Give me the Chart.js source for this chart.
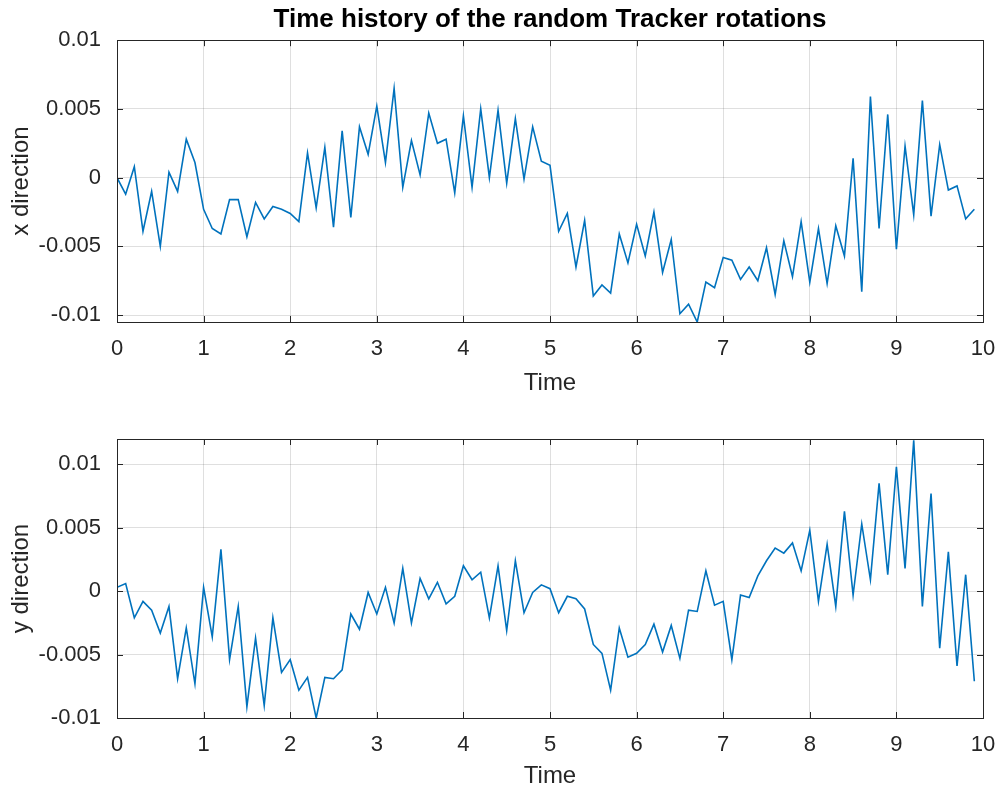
<!DOCTYPE html>
<html>
<head>
<meta charset="utf-8">
<script src="https://cdn.jsdelivr.net/npm/chart.js@4"></script>
<style>
  html, body { margin: 0; padding: 0; background: #ffffff; overflow: hidden; }
  .panel { position: absolute; left: 0; }
</style>
</head>
<body>
<div class="panel" style="top:0px"><canvas id="xChart" width="1000" height="400"></canvas></div>
<div class="panel" style="top:398px"><canvas id="yChart" width="1000" height="393"></canvas></div>
<script>
// time samples (s)
const time = [
    0.0, 0.1, 0.2, 0.3, 0.4, 0.5, 0.6, 0.7, 0.8, 0.9,
    1.0, 1.1, 1.2, 1.3, 1.4, 1.5, 1.6, 1.7, 1.8, 1.9,
    2.0, 2.1, 2.2, 2.3, 2.4, 2.5, 2.6, 2.7, 2.8, 2.9,
    3.0, 3.1, 3.2, 3.3, 3.4, 3.5, 3.6, 3.7, 3.8, 3.9,
    4.0, 4.1, 4.2, 4.3, 4.4, 4.5, 4.6, 4.7, 4.8, 4.9,
    5.0, 5.1, 5.2, 5.3, 5.4, 5.5, 5.6, 5.7, 5.8, 5.9,
    6.0, 6.1, 6.2, 6.3, 6.4, 6.5, 6.6, 6.7, 6.8, 6.9,
    7.0, 7.1, 7.2, 7.3, 7.4, 7.5, 7.6, 7.7, 7.8, 7.9,
    8.0, 8.1, 8.2, 8.3, 8.4, 8.5, 8.6, 8.7, 8.8, 8.9,
    9.0, 9.1, 9.2, 9.3, 9.4, 9.5, 9.6, 9.7, 9.8, 9.9
];

// rotation about x
const xRotation = [
    0, -0.0012, 0.0008, -0.0039, -0.0010, -0.0050, 0.0004, -0.0010, 0.0028, 0.0011,
    -0.0023, -0.0037, -0.0041, -0.0016, -0.0016, -0.0043, -0.0018, -0.0030, -0.0021, -0.0023,
    -0.0026, -0.0032, 0.0018, -0.0022, 0.0022, -0.0036, 0.0034, -0.0029, 0.0037, 0.0017,
    0.0052, 0.0011, 0.0065, -0.0007, 0.0027, 0.0002, 0.0047, 0.0025, 0.0028, -0.0011,
    0.0045, -0.0007, 0.0050, 0.0000, 0.0049, -0.0004, 0.0043, -0.0001, 0.0037, 0.0012,
    0.0009, -0.0039, -0.0026, -0.0065, -0.0031, -0.0086, -0.0078, -0.0084, -0.0041, -0.0062,
    -0.0034, -0.0057, -0.0025, -0.0069, -0.0045, -0.0099, -0.0092, -0.0105, -0.0076, -0.0080,
    -0.0058, -0.0060, -0.0074, -0.0065, -0.0075, -0.0051, -0.0085, -0.0046, -0.0072, -0.0032,
    -0.0076, -0.0037, -0.0077, -0.0035, -0.0057, 0.0014, -0.0083, 0.0059, -0.0037, 0.0046,
    -0.0052, 0.0023, -0.0027, 0.0056, -0.0028, 0.0024, -0.0009, -0.0006, -0.0030, -0.0023
];

// rotation about y
const yRotation = [
    0.0003, 0.0006, -0.0021, -0.0008, -0.0015, -0.0033, -0.0012, -0.0069, -0.0029, -0.0073,
    0.0003, -0.0036, 0.0033, -0.0054, -0.0012, -0.0091, -0.0037, -0.0090, -0.0021, -0.0064,
    -0.0054, -0.0078, -0.0068, -0.0100, -0.0068, -0.0069, -0.0062, -0.0018, -0.0030, -0.0001,
    -0.0018, 0.0003, -0.0025, 0.0018, -0.0025, 0.0010, -0.0006, 0.0007, -0.0010, -0.0004,
    0.0020, 0.0009, 0.0015, -0.0021, 0.0020, -0.0031, 0.0024, -0.0017, -0.0001, 0.0005,
    0.0002, -0.0017, -0.0004, -0.0006, -0.0014, -0.0042, -0.0049, -0.0078, -0.0029, -0.0052,
    -0.0049, -0.0042, -0.0026, -0.0048, -0.0027, -0.0053, -0.0015, -0.0016, 0.0016, -0.0011,
    -0.0008, -0.0054, -0.0003, -0.0005, 0.0012, 0.0024, 0.0034, 0.0030, 0.0038, 0.0016,
    0.0048, -0.0008, 0.0037, -0.0012, 0.0063, -0.0003, 0.0053, 0.0009, 0.0085, 0.0013,
    0.0098, 0.0018, 0.0119, -0.0012, 0.0077, -0.0045, 0.0031, -0.0059, 0.0013, -0.0071
];

const xTicks = [0, 1, 2, 3, 4, 5, 6, 7, 8, 9, 10];
const xTickLabels = ['0', '1', '2', '3', '4', '5', '6', '7', '8', '9', '10'];
const yTicksTop = [-0.01, -0.005, 0, 0.005, 0.01];
const yTickLabelsTop = ['-0.01', '-0.005', '0', '0.005', '0.01'];
const yTicksBottom = [-0.01, -0.005, 0, 0.005, 0.01];
const yTickLabelsBottom = ['-0.01', '-0.005', '0', '0.005', '0.01'];

const textColor = '#262626';
const fontFamily = '"Liberation Sans", Arial, Helvetica, sans-serif';

// matlab style box with ticks pointing inwards
const boxPlugin = {
    id: 'matlabBox',
    afterDraw(chart) {
        const ctx = chart.ctx;
        const area = chart.chartArea;
        const xs = chart.scales.x;
        const ys = chart.scales.y;
        const len = 6;
        ctx.save();
        ctx.strokeStyle = textColor;
        ctx.lineWidth = 1;
        ctx.beginPath();
        xs.ticks.forEach(t => {
            const px = Math.round(xs.getPixelForValue(t.value)) + 0.5;
            ctx.moveTo(px, area.bottom);
            ctx.lineTo(px, area.bottom - len);
            ctx.moveTo(px, area.top);
            ctx.lineTo(px, area.top + len);
        });
        ys.ticks.forEach(t => {
            const py = Math.round(ys.getPixelForValue(t.value)) + 0.5;
            ctx.moveTo(area.left, py);
            ctx.lineTo(area.left + len, py);
            ctx.moveTo(area.right, py);
            ctx.lineTo(area.right - len, py);
        });
        ctx.stroke();
        ctx.strokeRect(Math.round(area.left) + 0.5, Math.round(area.top) + 0.5,
            Math.round(area.right - area.left), Math.round(area.bottom - area.top));
        ctx.restore();
    }
};

function makeChart(canvasId, values, yMin, yMax, yTicks, yLabels, yTitle, withTitle, padTop, xHeight, xTitleBottom) {
    const ctx = document.getElementById(canvasId).getContext('2d');
    return new Chart(ctx, {
        type: 'line',
        data: {
            labels: time,
            datasets: [{
                data: time.map((t, i) => ({ x: t, y: values[i] })),
                borderColor: '#0072BD',
                borderWidth: 1.6,
                pointRadius: 0,
                tension: 0,
                fill: false
            }]
        },
        options: {
            responsive: false,
            animation: false,
            devicePixelRatio: 1,
            layout: { padding: { top: padTop, right: 17, left: 0, bottom: 0 } },
            plugins: {
                legend: { display: false },
                tooltip: { enabled: false },
                title: {
                    display: withTitle,
                    text: 'Time history of the random Tracker rotations',
                    fullSize: false,
                    color: '#000000',
                    font: { family: fontFamily, size: 26, weight: 'bold' },
                    padding: { top: 4, bottom: 5 }
                }
            },
            scales: {
                x: {
                    type: 'linear',
                    min: 0,
                    max: 10,
                    afterFit: scale => {
                        scale.height = xHeight;
                        scale.paddingLeft = 0;
                        scale.paddingRight = 0;
                    },
                    afterBuildTicks: scale => { scale.ticks = xTicks.map(v => ({ value: v })); },
                    ticks: {
                        color: textColor,
                        padding: 14,
                        maxRotation: 0,
                        autoSkip: false,
                        font: { family: fontFamily, size: 22 },
                        callback: (v, i) => xTickLabels[i]
                    },
                    grid: { color: 'rgba(38,38,38,0.15)', drawTicks: false },
                    border: { display: false },
                    title: {
                        display: true,
                        text: 'Time',
                        color: textColor,
                        font: { family: fontFamily, size: 24 },
                        padding: { top: 0, bottom: xTitleBottom }
                    }
                },
                y: {
                    min: yMin,
                    max: yMax,
                    afterFit: scale => {
                        scale.width = 117;
                        scale.paddingTop = 0;
                        scale.paddingBottom = 0;
                    },
                    afterBuildTicks: scale => { scale.ticks = yTicks.map(v => ({ value: v })); },
                    ticks: {
                        color: textColor,
                        padding: 16,
                        font: { family: fontFamily, size: 22 },
                        callback: (v, i) => yLabels[i]
                    },
                    grid: { color: 'rgba(38,38,38,0.15)', drawTicks: false },
                    border: { display: false },
                    title: {
                        display: true,
                        text: yTitle,
                        color: textColor,
                        font: { family: fontFamily, size: 24 },
                        padding: { top: 7, bottom: 0 }
                    }
                }
            }
        },
        plugins: [boxPlugin]
    });
}

makeChart('xChart', xRotation, -0.0105, 0.01, yTicksTop, yTickLabelsTop, 'x direction', true, 0, 78, 2);
makeChart('yChart', yRotation, -0.01, 0.012, yTicksBottom, yTickLabelsBottom, 'y direction', false, 41, 73, 0);
</script>
</body>
</html>
